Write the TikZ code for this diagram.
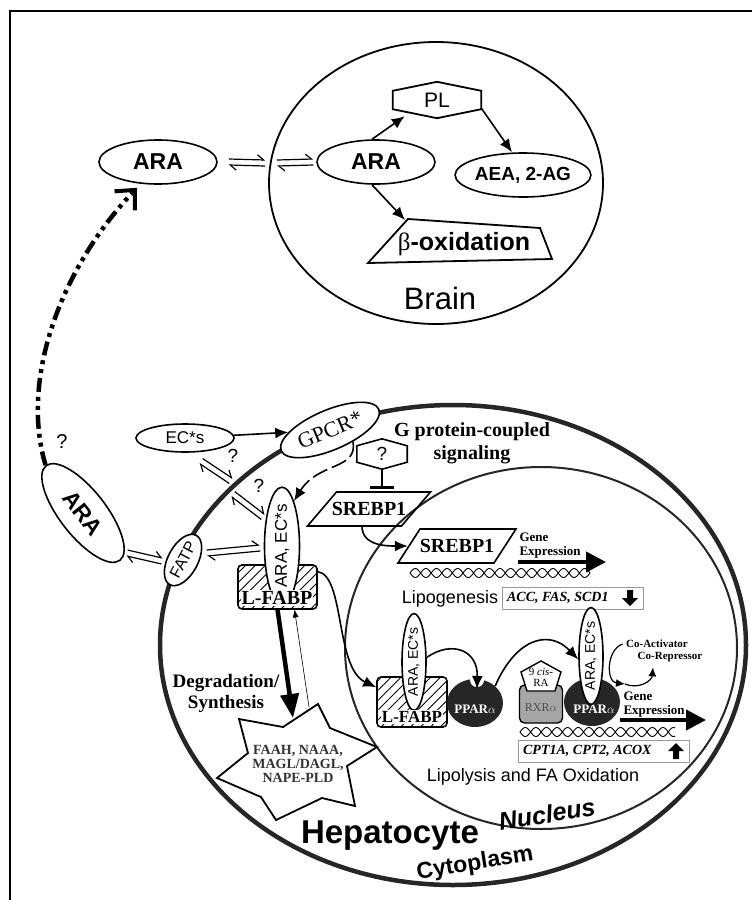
\documentclass[tikz,border=0pt]{standalone}
\usepackage{fontspec}
\setmainfont{Liberation Serif}
\setsansfont{Liberation Sans}
\usetikzlibrary{shapes.geometric, arrows.meta, patterns.meta, calc}

\newcommand{\fsz}[1]{\fontsize{#1}{#1}\selectfont}
\newcommand{\equil}[2]{%
  \draw[harp] ($(#1)!3pt!90:(#2)$) -- ($(#2)!3pt!-90:(#1)$);
  \draw[harp] ($(#2)!3pt!90:(#1)$) -- ($(#1)!3pt!-90:(#2)$);}
\newcommand{\blockarrow}[2]{%
  \fill[shift={(#1)}, rotate=#2] (-3,-8) -- (3,-8) -- (3,0) -- (8,0) -- (0,8) -- (-8,0) -- (-3,0) -- cycle;}
\newcommand{\helix}[3]{%
  \draw[line width=0.9pt] plot[domain=#1:#2, samples=240, smooth] (\x, {#3+4.5*sin(17*(\x-#1))});
  \draw[line width=0.9pt] plot[domain=#1:#2, samples=240, smooth] (\x, {#3-4.5*sin(17*(\x-#1))});}

\tikzset{
  ell/.style={ellipse, draw, line width=1.6pt, fill=white, inner sep=0pt},
  arr/.style={line width=1.6pt, -{Latex[length=13pt,width=11pt]}},
  arrsm/.style={line width=1.2pt, -{Latex[length=9pt,width=8pt]}},
  harp/.style={line width=1.2pt, -{Straight Barb[harpoon,length=6pt,width=10pt]}},
  hatchbox/.style={draw, line width=1.6pt, rounded corners=4pt, pattern={Lines[angle=45,distance=7pt,line width=0.9pt]}},
  genebox/.style={draw=black!40, line width=0.8pt},
  blob/.style={ellipse, fill=black!85, inner sep=0pt},
  bigarrow/.style={line width=4pt, -{Triangle[length=20pt,width=20pt]}}
}

\begin{document}
\begin{tikzpicture}[x=1pt, y=-1pt]
\useasboundingbox (0,0) rectangle (752,900);
\draw[line width=2.5pt] (752,11) -- (10,11) -- (10,900);

% brain
\node[ellipse, draw, line width=1.8pt, minimum width=334, minimum height=282] (brain) at (436,183) {};
\node[font=\sffamily\fsz{31}] (brainlab) at (440,298) {Brain};
\node[ell, minimum width=118, minimum height=44, font=\sffamily\bfseries\fsz{23}] (arao) at (158,162) {ARA};
\node[ell, minimum width=118, minimum height=44, font=\sffamily\bfseries\fsz{23}] (arab) at (376,162) {ARA};
\node[minimum width=88, minimum height=36, font=\sffamily\fsz{21}] (pl) at (437,100) {PL};
\draw[line width=1.8pt] (pl.north) -- ([yshift=-9pt]pl.north east) -- ([yshift=9pt]pl.south east) -- (pl.south) -- ([yshift=9pt]pl.south west) -- ([yshift=-9pt]pl.north west) -- cycle;
\node[ell, minimum width=112, minimum height=44, font=\sffamily\bfseries\fsz{19}] (aea) at (523,175) {AEA, 2-AG};
\node[font=\sffamily\bfseries\fsz{25}] (betaox) at (464,244) {{\rmfamily\mdseries β}-oxidation};
\draw[line width=1.8pt] (368,263) -- (552,259) -- (540,228) -- (408,219) -- cycle;
\coordinate (betain) at (405,220);
\draw[arr] ([xshift=-4pt]arab.north) -- ([xshift=12pt,yshift=2pt]pl.south west);
\draw[arr] ([yshift=-8pt]pl.east) -- ([xshift=-11pt]aea.north);
\draw[arr] ([xshift=-4pt]arab.south) -- (betain);
\coordinate (m1) at ([xshift=11pt]arao.east);
\coordinate (m2) at (265,163);
\coordinate (m3) at (277,163);
\coordinate (m4) at ([xshift=-3pt]arab.west);
\equil{m1}{m2}
\equil{m3}{m4}

% hepatocyte
\node[ellipse, draw=black!85, line width=4.5pt, minimum width=586, minimum height=480] (cell) at (453,645) {};
\node[ellipse, draw=black!85, line width=2pt, minimum width=392, minimum height=362] (nuc) at (541,648) {};

\node[ell, rotate=-52, minimum width=120, minimum height=46, font=\sffamily\bfseries\fsz{23}] (aral) at (83,513) {ARA};
\coordinate (aratip) at ([xshift=-21pt,yshift=-3pt]arao.south);
\coordinate (arabase) at ($(aratip)!7pt!(60,270)$);
\draw[line width=4.5pt, dash pattern=on 14pt off 5pt on 4pt off 5pt on 4pt off 5pt] (aral.west) .. controls (20,380) and (60,270) .. (arabase);
\draw[line width=4pt, -{Straight Barb[length=15pt,width=28pt]}] (arabase) -- (aratip);
\node[font=\sffamily\fsz{20}] (qdash) at (62,442) {?};

\node[ell, minimum width=98, minimum height=28, font=\sffamily\fsz{17}] (ecs) at (185,438) {EC*s};
\node[ell, rotate=23, minimum width=106, minimum height=40, font=\fsz{22}] (gpcr) at (330,430) {GPCR*};
\draw[arr] (ecs) -- (gpcr);
\node[ell, rotate=62, minimum width=56, minimum height=30, font=\sffamily\fsz{16}] (fatp) at (183,560) {FATP};

\node[hatchbox, minimum width=79, minimum height=44] (lfabp) at (277.5,587) {};
\node[ell, rotate=90, minimum width=90, minimum height=35, font=\sffamily\fsz{17}] (arac) at (282,546) {ARA, EC*s};
\node[fill=white, inner sep=1pt, font=\bfseries\fsz{20}] (lfabptxt) at (277,598) {L-FABP};

\coordinate (e1a) at (127,553); \coordinate (e1b) at (162,561);
\coordinate (e2a) at (207,553); \coordinate (e2b) at (260,548);
\coordinate (e3a) at (201,461); \coordinate (e3b) at (231,481);
\coordinate (e4a) at (233,494); \coordinate (e4b) at (263,517);
\equil{e1a}{e1b}
\equil{e2a}{e2b}
\equil{e3a}{e3b}
\equil{e4a}{e4b}
\node[font=\sffamily\fsz{19}] (q1) at (233,456) {?};
\node[font=\sffamily\fsz{19}] (q2) at (259,486) {?};

\node[align=center, font=\bfseries\fsz{20}] (gprot) at (472,443) {G protein-coupled\\[3pt]signaling};
\node[minimum width=50, minimum height=30, font=\sffamily\fsz{19}] (qhex) at (382,454) {?};
\draw[line width=1.6pt] (qhex.north) -- ([yshift=-7pt]qhex.north east) -- ([yshift=7pt]qhex.south east) -- (qhex.south) -- ([yshift=7pt]qhex.south west) -- ([yshift=-7pt]qhex.north west) -- cycle;
\draw[line width=1.6pt, dash pattern=on 16pt off 5pt, -{Latex[length=13pt,width=11pt]}] (gpcr.-50) .. controls (358,470) and (318,462) .. (arac.-15);

\node[minimum width=94, minimum height=34, font=\bfseries\fsz{20}] (srebc) at (369,509) {SREBP1};
\draw[line width=1.6pt] (307.5,526) -- (336.5,492) -- (430.5,492) -- (401.5,526) -- cycle;
\draw[line width=1.6pt, -{Bar[width=24pt,line width=3pt]}] (qhex.south) -- ([yshift=3pt]qhex.south |- srebc.north);
\node[minimum width=98, minimum height=34, font=\bfseries\fsz{20}] (srebn) at (457,546) {SREBP1};
\draw[line width=1.6pt] (398,563) -- (420,529) -- (516,529) -- (494,563) -- cycle;
\draw[arr] ([xshift=-7pt]srebc.south) .. controls +(0,20) and +(-20,0) .. (srebn.west);

\node[anchor=west, align=left, font=\bfseries\fsz{13}] (gene1) at (516,546) {Gene\\[1pt]Expression};
\coordinate (g1a) at (518,562); \coordinate (g1b) at (606,562);
\draw[bigarrow] (g1a) -- (g1b);
\helix{410}{590}{573}
\node[font=\sffamily\fsz{18}] (lipo) at (450,599) {Lipogenesis};
\node[genebox, minimum width=141, minimum height=22] (lipbox) at (572.5,598) {};
\node[anchor=west, font=\bfseries\itshape\fsz{14}] (liptxt) at ([xshift=2pt]lipbox.west) {ACC, FAS, SCD1};
\blockarrow{630,598}{0}

% nucleus receptors
\node[hatchbox, minimum width=70, minimum height=50] (lfabpn) at (412,702) {};
\node[ell, rotate=90, minimum width=80, minimum height=24, font=\sffamily\fsz{14}] (aran1) at (414,662) {ARA, EC*s};
\node[fill=white, inner sep=1pt, font=\bfseries\fsz{17}] (lfabpntxt) at (412,717) {L-FABP};
\draw[arr] ([yshift=-7pt]lfabp.north east) .. controls (345,575) and (335,668) .. ([yshift=-11pt]lfabpn.north west);

\node[blob, minimum width=56, minimum height=48] (ppar1) at (475,703) {};
\fill[white] (477,680) circle[radius=7pt];
\node[text=white, font=\bfseries\fsz{13}] (ppar1txt) at (475,709) {PPAR$\alpha$};
\coordinate (notch1) at (477,689);
\draw[arr] (aran1.-70) .. controls (452,640) and (478,650) .. (notch1);

\node[draw, line width=1.4pt, fill=black!35, rounded corners=5pt, minimum width=43, minimum height=38] (rxr) at (541,704) {};
\node[text=black!70, font=\fsz{12}] (rxrtxt) at (541,708) {RXR$\alpha$};
\draw[line width=1.4pt, fill=white] (541,661) -- (561,672) -- (555,691) -- (527,691) -- (521,672) -- cycle;
\node[align=center, font=\fsz{11}] (cisra) at (541,677) {9 \textit{cis}-\\RA};

\node[blob, minimum width=56, minimum height=48] (ppar2) at (592,702) {};
\node[text=white, font=\bfseries\fsz{13}] (ppar2txt) at (594,709) {PPAR$\alpha$};
\node[ell, rotate=90, minimum width=82, minimum height=24, font=\sffamily\fsz{14}] (aran2) at (591,656) {ARA, EC*s};
\draw[arr] (ppar1.40) .. controls (515,640) and (548,628) .. (aran2.105);

\node[font=\bfseries\fsz{11}] (coact) at (657,644) {Co-Activator};
\node[font=\bfseries\fsz{11}] (corep) at (670,657) {Co-Repressor};
\coordinate (coin) at (625,684);
\draw[arrsm] (coact.west) .. controls (606,650) and (606,682) .. (coin);
\draw[arrsm] (coin) .. controls (640,690) and (652,680) .. ([xshift=-17pt,yshift=-2pt]corep.south);

\node[anchor=west, align=left, font=\bfseries\fsz{13}] (gene2) at (620,705) {Gene\\[1pt]Expression};
\coordinate (g2a) at (620,720); \coordinate (g2b) at (706,720);
\draw[bigarrow] (g2a) -- (g2b);
\helix{520}{675}{732}
\node[genebox, minimum width=171, minimum height=22] (cptbox) at (603.5,751) {};
\node[anchor=west, font=\bfseries\itshape\fsz{14}] (cpttxt) at ([xshift=2pt]cptbox.west) {CPT1A, CPT2, ACOX};
\blockarrow{676,751}{180}
\node[font=\sffamily\fsz{18}] (lipol) at (533,777) {Lipolysis and FA Oxidation};

% degradation
\node[align=center, font=\bfseries\fsz{19}] (degr) at (226,693) {Degradation/\\[2pt]Synthesis};
\draw[line width=1.8pt, fill=white] (239,719) -- (283,727) -- (318,704) -- (330,728) -- (377,747) -- (347,766) -- (355,806) -- (322,798) -- (276,820) -- (261,797) -- (217,778) -- (248,753) -- cycle;
\node[align=center, text=black!80, font=\bfseries\fsz{14}] (enz) at (298,764) {FAAH, NAAA,\\MAGL/DAGL,\\NAPE-PLD};
\coordinate (degtip) at (293,718);
\coordinate (syntop) at (309,707);
\draw[line width=4.5pt, -{Triangle[length=24pt,width=18pt]}] (lfabp.south) -- (degtip);
\draw[line width=0.6pt, -{Latex[length=8pt,width=6pt]}] (syntop) -- ([xshift=17pt]lfabp.south);

\node[font=\sffamily\bfseries\fsz{33}] (hep) at (390,836) {Hepatocyte};
\node[rotate=9, font=\sffamily\bfseries\fsz{23}] (cyto) at (475,864) {Cytoplasm};
\node[rotate=9, font=\sffamily\bfseries\itshape\fsz{25}] (nuclab) at (547,814) {Nucleus};
\end{tikzpicture}
\end{document}
